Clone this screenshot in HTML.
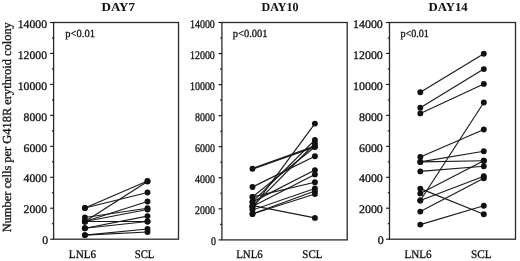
<!DOCTYPE html>
<html><head><meta charset="utf-8"><style>
html,body{margin:0;padding:0;background:#fff;}
svg{display:block;filter:grayscale(1);}
text{text-rendering:geometricPrecision;font-family:"Liberation Serif",serif;fill:#111;stroke:#111;stroke-width:0.3px;}
</style></head><body>
<svg width="520" height="261" viewBox="0 0 520 261">
<rect x="53.6" y="22.5" width="124.90" height="216.70" fill="none" stroke="#2a2a2a" stroke-width="1.3"/>
<line x1="50.20" y1="239.20" x2="53.6" y2="239.20" stroke="#111" stroke-width="1.1"/>
<line x1="51.90" y1="223.72" x2="53.6" y2="223.72" stroke="#111" stroke-width="1.1"/>
<line x1="50.20" y1="208.24" x2="53.6" y2="208.24" stroke="#111" stroke-width="1.1"/>
<line x1="51.90" y1="192.76" x2="53.6" y2="192.76" stroke="#111" stroke-width="1.1"/>
<line x1="50.20" y1="177.29" x2="53.6" y2="177.29" stroke="#111" stroke-width="1.1"/>
<line x1="51.90" y1="161.81" x2="53.6" y2="161.81" stroke="#111" stroke-width="1.1"/>
<line x1="50.20" y1="146.33" x2="53.6" y2="146.33" stroke="#111" stroke-width="1.1"/>
<line x1="51.90" y1="130.85" x2="53.6" y2="130.85" stroke="#111" stroke-width="1.1"/>
<line x1="50.20" y1="115.37" x2="53.6" y2="115.37" stroke="#111" stroke-width="1.1"/>
<line x1="51.90" y1="99.89" x2="53.6" y2="99.89" stroke="#111" stroke-width="1.1"/>
<line x1="50.20" y1="84.41" x2="53.6" y2="84.41" stroke="#111" stroke-width="1.1"/>
<line x1="51.90" y1="68.94" x2="53.6" y2="68.94" stroke="#111" stroke-width="1.1"/>
<line x1="50.20" y1="53.46" x2="53.6" y2="53.46" stroke="#111" stroke-width="1.1"/>
<line x1="51.90" y1="37.98" x2="53.6" y2="37.98" stroke="#111" stroke-width="1.1"/>
<line x1="50.20" y1="22.50" x2="53.6" y2="22.50" stroke="#111" stroke-width="1.1"/>
<text transform="translate(42.18,244.40) scale(1.010,1)" font-size="11.6" font-weight="normal">0</text>
<text transform="translate(23.61,213.44) scale(1.010,1)" font-size="11.6" font-weight="normal">2000</text>
<text transform="translate(23.61,182.49) scale(1.010,1)" font-size="11.6" font-weight="normal">4000</text>
<text transform="translate(23.61,151.53) scale(1.010,1)" font-size="11.6" font-weight="normal">6000</text>
<text transform="translate(23.61,120.57) scale(1.010,1)" font-size="11.6" font-weight="normal">8000</text>
<text transform="translate(17.75,89.61) scale(1.010,1)" font-size="11.6" font-weight="normal">10000</text>
<text transform="translate(17.75,58.66) scale(1.010,1)" font-size="11.6" font-weight="normal">12000</text>
<text transform="translate(17.75,27.70) scale(1.010,1)" font-size="11.6" font-weight="normal">14000</text>
<text style="stroke-width:0.05px" transform="translate(101.47,10.50) scale(1.071,1)" font-size="12.2" font-weight="bold">DAY7</text>
<text transform="translate(65.34,37.30) scale(0.964,1)" font-size="10.9" font-weight="normal">p<0.01</text>
<text transform="translate(68.87,257.50) scale(0.958,1)" font-size="11.6" font-weight="normal">LNL6</text>
<text transform="translate(134.67,257.50) scale(0.930,1)" font-size="11.6" font-weight="normal">SCL</text>
<line x1="84.9" y1="208" x2="147.5" y2="181" stroke="#1a1a1a" stroke-width="1.15"/>
<line x1="84.9" y1="208" x2="147.5" y2="192.5" stroke="#1a1a1a" stroke-width="1.15"/>
<line x1="84.9" y1="221.5" x2="147.5" y2="181.5" stroke="#1a1a1a" stroke-width="1.15"/>
<line x1="84.9" y1="221.5" x2="147.5" y2="201.5" stroke="#1a1a1a" stroke-width="1.15"/>
<line x1="84.9" y1="217.5" x2="147.5" y2="208.3" stroke="#1a1a1a" stroke-width="1.15"/>
<line x1="84.9" y1="221.5" x2="147.5" y2="209.5" stroke="#1a1a1a" stroke-width="1.15"/>
<line x1="84.9" y1="228.2" x2="147.5" y2="216.1" stroke="#1a1a1a" stroke-width="1.15"/>
<line x1="84.9" y1="228.2" x2="147.5" y2="221.5" stroke="#1a1a1a" stroke-width="1.15"/>
<line x1="84.9" y1="221.5" x2="147.5" y2="221.5" stroke="#1a1a1a" stroke-width="1.15"/>
<line x1="84.9" y1="235.1" x2="147.5" y2="229" stroke="#1a1a1a" stroke-width="1.15"/>
<line x1="84.9" y1="235.1" x2="147.5" y2="232" stroke="#1a1a1a" stroke-width="1.15"/>
<circle cx="84.9" cy="208" r="2.95" fill="#111"/>
<circle cx="147.5" cy="181" r="2.95" fill="#111"/>
<circle cx="84.9" cy="208" r="2.95" fill="#111"/>
<circle cx="147.5" cy="192.5" r="2.95" fill="#111"/>
<circle cx="84.9" cy="221.5" r="2.95" fill="#111"/>
<circle cx="147.5" cy="181.5" r="2.95" fill="#111"/>
<circle cx="84.9" cy="221.5" r="2.95" fill="#111"/>
<circle cx="147.5" cy="201.5" r="2.95" fill="#111"/>
<circle cx="84.9" cy="217.5" r="2.95" fill="#111"/>
<circle cx="147.5" cy="208.3" r="2.95" fill="#111"/>
<circle cx="84.9" cy="221.5" r="2.95" fill="#111"/>
<circle cx="147.5" cy="209.5" r="2.95" fill="#111"/>
<circle cx="84.9" cy="228.2" r="2.95" fill="#111"/>
<circle cx="147.5" cy="216.1" r="2.95" fill="#111"/>
<circle cx="84.9" cy="228.2" r="2.95" fill="#111"/>
<circle cx="147.5" cy="221.5" r="2.95" fill="#111"/>
<circle cx="84.9" cy="221.5" r="2.95" fill="#111"/>
<circle cx="147.5" cy="221.5" r="2.95" fill="#111"/>
<circle cx="84.9" cy="235.1" r="2.95" fill="#111"/>
<circle cx="147.5" cy="229" r="2.95" fill="#111"/>
<circle cx="84.9" cy="235.1" r="2.95" fill="#111"/>
<circle cx="147.5" cy="232" r="2.95" fill="#111"/>
<rect x="221.9" y="22.5" width="125.30" height="217.40" fill="none" stroke="#2a2a2a" stroke-width="1.3"/>
<line x1="218.50" y1="239.90" x2="221.9" y2="239.90" stroke="#111" stroke-width="1.1"/>
<line x1="220.20" y1="224.37" x2="221.9" y2="224.37" stroke="#111" stroke-width="1.1"/>
<line x1="218.50" y1="208.84" x2="221.9" y2="208.84" stroke="#111" stroke-width="1.1"/>
<line x1="220.20" y1="193.31" x2="221.9" y2="193.31" stroke="#111" stroke-width="1.1"/>
<line x1="218.50" y1="177.79" x2="221.9" y2="177.79" stroke="#111" stroke-width="1.1"/>
<line x1="220.20" y1="162.26" x2="221.9" y2="162.26" stroke="#111" stroke-width="1.1"/>
<line x1="218.50" y1="146.73" x2="221.9" y2="146.73" stroke="#111" stroke-width="1.1"/>
<line x1="220.20" y1="131.20" x2="221.9" y2="131.20" stroke="#111" stroke-width="1.1"/>
<line x1="218.50" y1="115.67" x2="221.9" y2="115.67" stroke="#111" stroke-width="1.1"/>
<line x1="220.20" y1="100.14" x2="221.9" y2="100.14" stroke="#111" stroke-width="1.1"/>
<line x1="218.50" y1="84.61" x2="221.9" y2="84.61" stroke="#111" stroke-width="1.1"/>
<line x1="220.20" y1="69.09" x2="221.9" y2="69.09" stroke="#111" stroke-width="1.1"/>
<line x1="218.50" y1="53.56" x2="221.9" y2="53.56" stroke="#111" stroke-width="1.1"/>
<line x1="220.20" y1="38.03" x2="221.9" y2="38.03" stroke="#111" stroke-width="1.1"/>
<line x1="218.50" y1="22.50" x2="221.9" y2="22.50" stroke="#111" stroke-width="1.1"/>
<text transform="translate(210.89,245.10) scale(0.860,1)" font-size="11.6" font-weight="normal">0</text>
<text transform="translate(194.92,214.04) scale(0.860,1)" font-size="11.6" font-weight="normal">2000</text>
<text transform="translate(194.92,182.99) scale(0.860,1)" font-size="11.6" font-weight="normal">4000</text>
<text transform="translate(194.92,151.93) scale(0.860,1)" font-size="11.6" font-weight="normal">6000</text>
<text transform="translate(194.92,120.87) scale(0.860,1)" font-size="11.6" font-weight="normal">8000</text>
<text transform="translate(189.93,89.81) scale(0.860,1)" font-size="11.6" font-weight="normal">10000</text>
<text transform="translate(189.93,58.76) scale(0.860,1)" font-size="11.6" font-weight="normal">12000</text>
<text transform="translate(189.93,27.70) scale(0.860,1)" font-size="11.6" font-weight="normal">14000</text>
<text style="stroke-width:0.05px" transform="translate(261.49,10.50) scale(0.991,1)" font-size="12.2" font-weight="bold">DAY10</text>
<text transform="translate(232.84,36.80) scale(0.963,1)" font-size="10.9" font-weight="normal">p<0.001</text>
<text transform="translate(236.17,258.00) scale(0.940,1)" font-size="11.6" font-weight="normal">LNL6</text>
<text transform="translate(302.36,258.00) scale(0.940,1)" font-size="11.6" font-weight="normal">SCL</text>
<line x1="252.5" y1="168.8" x2="314.9" y2="146.5" stroke="#1a1a1a" stroke-width="1.9"/>
<line x1="252.5" y1="187" x2="314.9" y2="156.3" stroke="#1a1a1a" stroke-width="1.15"/>
<line x1="252.5" y1="208" x2="314.9" y2="123.6" stroke="#1a1a1a" stroke-width="1.15"/>
<line x1="252.5" y1="197" x2="314.9" y2="147" stroke="#1a1a1a" stroke-width="1.15"/>
<line x1="252.5" y1="202" x2="314.9" y2="140" stroke="#1a1a1a" stroke-width="1.15"/>
<line x1="252.5" y1="206.5" x2="314.9" y2="143.5" stroke="#1a1a1a" stroke-width="1.15"/>
<line x1="252.5" y1="197" x2="314.9" y2="182.2" stroke="#1a1a1a" stroke-width="1.15"/>
<line x1="252.5" y1="202" x2="314.9" y2="170.1" stroke="#1a1a1a" stroke-width="1.15"/>
<line x1="252.5" y1="206.5" x2="314.9" y2="174.4" stroke="#1a1a1a" stroke-width="1.15"/>
<line x1="252.5" y1="210" x2="314.9" y2="188.5" stroke="#1a1a1a" stroke-width="1.15"/>
<line x1="252.5" y1="214" x2="314.9" y2="191" stroke="#1a1a1a" stroke-width="1.15"/>
<line x1="252.5" y1="214" x2="314.9" y2="194" stroke="#1a1a1a" stroke-width="1.15"/>
<line x1="252.5" y1="205.5" x2="314.9" y2="217.9" stroke="#1a1a1a" stroke-width="1.15"/>
<circle cx="252.5" cy="168.8" r="2.95" fill="#111"/>
<circle cx="314.9" cy="146.5" r="2.95" fill="#111"/>
<circle cx="252.5" cy="187" r="2.95" fill="#111"/>
<circle cx="314.9" cy="156.3" r="2.95" fill="#111"/>
<circle cx="252.5" cy="208" r="2.95" fill="#111"/>
<circle cx="314.9" cy="123.6" r="2.95" fill="#111"/>
<circle cx="252.5" cy="197" r="2.95" fill="#111"/>
<circle cx="314.9" cy="147" r="2.95" fill="#111"/>
<circle cx="252.5" cy="202" r="2.95" fill="#111"/>
<circle cx="314.9" cy="140" r="2.95" fill="#111"/>
<circle cx="252.5" cy="206.5" r="2.95" fill="#111"/>
<circle cx="314.9" cy="143.5" r="2.95" fill="#111"/>
<circle cx="252.5" cy="197" r="2.95" fill="#111"/>
<circle cx="314.9" cy="182.2" r="2.95" fill="#111"/>
<circle cx="252.5" cy="202" r="2.95" fill="#111"/>
<circle cx="314.9" cy="170.1" r="2.95" fill="#111"/>
<circle cx="252.5" cy="206.5" r="2.95" fill="#111"/>
<circle cx="314.9" cy="174.4" r="2.95" fill="#111"/>
<circle cx="252.5" cy="210" r="2.95" fill="#111"/>
<circle cx="314.9" cy="188.5" r="2.95" fill="#111"/>
<circle cx="252.5" cy="214" r="2.95" fill="#111"/>
<circle cx="314.9" cy="191" r="2.95" fill="#111"/>
<circle cx="252.5" cy="214" r="2.95" fill="#111"/>
<circle cx="314.9" cy="194" r="2.95" fill="#111"/>
<circle cx="252.5" cy="205.5" r="2.95" fill="#111"/>
<circle cx="314.9" cy="217.9" r="2.95" fill="#111"/>
<rect x="389.5" y="22.5" width="126.00" height="216.70" fill="none" stroke="#2a2a2a" stroke-width="1.3"/>
<line x1="386.10" y1="239.20" x2="389.5" y2="239.20" stroke="#111" stroke-width="1.1"/>
<line x1="387.80" y1="223.72" x2="389.5" y2="223.72" stroke="#111" stroke-width="1.1"/>
<line x1="386.10" y1="208.24" x2="389.5" y2="208.24" stroke="#111" stroke-width="1.1"/>
<line x1="387.80" y1="192.76" x2="389.5" y2="192.76" stroke="#111" stroke-width="1.1"/>
<line x1="386.10" y1="177.29" x2="389.5" y2="177.29" stroke="#111" stroke-width="1.1"/>
<line x1="387.80" y1="161.81" x2="389.5" y2="161.81" stroke="#111" stroke-width="1.1"/>
<line x1="386.10" y1="146.33" x2="389.5" y2="146.33" stroke="#111" stroke-width="1.1"/>
<line x1="387.80" y1="130.85" x2="389.5" y2="130.85" stroke="#111" stroke-width="1.1"/>
<line x1="386.10" y1="115.37" x2="389.5" y2="115.37" stroke="#111" stroke-width="1.1"/>
<line x1="387.80" y1="99.89" x2="389.5" y2="99.89" stroke="#111" stroke-width="1.1"/>
<line x1="386.10" y1="84.41" x2="389.5" y2="84.41" stroke="#111" stroke-width="1.1"/>
<line x1="387.80" y1="68.94" x2="389.5" y2="68.94" stroke="#111" stroke-width="1.1"/>
<line x1="386.10" y1="53.46" x2="389.5" y2="53.46" stroke="#111" stroke-width="1.1"/>
<line x1="387.80" y1="37.98" x2="389.5" y2="37.98" stroke="#111" stroke-width="1.1"/>
<line x1="386.10" y1="22.50" x2="389.5" y2="22.50" stroke="#111" stroke-width="1.1"/>
<text transform="translate(377.87,244.40) scale(1.030,1)" font-size="11.6" font-weight="normal">0</text>
<text transform="translate(358.95,213.44) scale(1.030,1)" font-size="11.6" font-weight="normal">2000</text>
<text transform="translate(358.95,182.49) scale(1.030,1)" font-size="11.6" font-weight="normal">4000</text>
<text transform="translate(358.95,151.53) scale(1.030,1)" font-size="11.6" font-weight="normal">6000</text>
<text transform="translate(358.95,120.57) scale(1.030,1)" font-size="11.6" font-weight="normal">8000</text>
<text transform="translate(352.98,89.61) scale(1.030,1)" font-size="11.6" font-weight="normal">10000</text>
<text transform="translate(352.98,58.66) scale(1.030,1)" font-size="11.6" font-weight="normal">12000</text>
<text transform="translate(352.98,27.70) scale(1.030,1)" font-size="11.6" font-weight="normal">14000</text>
<text style="stroke-width:0.05px" transform="translate(428.48,10.50) scale(1.046,1)" font-size="12.2" font-weight="bold">DAY14</text>
<text transform="translate(400.45,37.10) scale(0.927,1)" font-size="10.9" font-weight="normal">p<0.01</text>
<text transform="translate(404.47,257.50) scale(0.958,1)" font-size="11.6" font-weight="normal">LNL6</text>
<text transform="translate(470.94,257.50) scale(0.971,1)" font-size="11.6" font-weight="normal">SCL</text>
<line x1="420.3" y1="92.2" x2="483.8" y2="53.8" stroke="#1a1a1a" stroke-width="1.15"/>
<line x1="420.3" y1="107.7" x2="483.8" y2="69.1" stroke="#1a1a1a" stroke-width="1.15"/>
<line x1="420.3" y1="113.4" x2="483.8" y2="83.9" stroke="#1a1a1a" stroke-width="1.15"/>
<line x1="420.3" y1="157" x2="483.8" y2="129.5" stroke="#1a1a1a" stroke-width="1.15"/>
<line x1="420.3" y1="161.9" x2="483.8" y2="151.2" stroke="#1a1a1a" stroke-width="1.15"/>
<line x1="420.3" y1="161.9" x2="483.8" y2="160.7" stroke="#1a1a1a" stroke-width="1.15"/>
<line x1="420.3" y1="171.4" x2="483.8" y2="166.2" stroke="#1a1a1a" stroke-width="1.15"/>
<line x1="420.3" y1="193.4" x2="483.8" y2="160.7" stroke="#1a1a1a" stroke-width="1.15"/>
<line x1="420.3" y1="200.5" x2="483.8" y2="102.5" stroke="#1a1a1a" stroke-width="1.15"/>
<line x1="420.3" y1="200.5" x2="483.8" y2="176.3" stroke="#1a1a1a" stroke-width="1.15"/>
<line x1="420.3" y1="211.6" x2="483.8" y2="178.2" stroke="#1a1a1a" stroke-width="1.15"/>
<line x1="420.3" y1="224.6" x2="483.8" y2="205.8" stroke="#1a1a1a" stroke-width="1.15"/>
<line x1="420.3" y1="188.6" x2="483.8" y2="214.3" stroke="#1a1a1a" stroke-width="1.15"/>
<circle cx="420.3" cy="92.2" r="2.95" fill="#111"/>
<circle cx="483.8" cy="53.8" r="2.95" fill="#111"/>
<circle cx="420.3" cy="107.7" r="2.95" fill="#111"/>
<circle cx="483.8" cy="69.1" r="2.95" fill="#111"/>
<circle cx="420.3" cy="113.4" r="2.95" fill="#111"/>
<circle cx="483.8" cy="83.9" r="2.95" fill="#111"/>
<circle cx="420.3" cy="157" r="2.95" fill="#111"/>
<circle cx="483.8" cy="129.5" r="2.95" fill="#111"/>
<circle cx="420.3" cy="161.9" r="2.95" fill="#111"/>
<circle cx="483.8" cy="151.2" r="2.95" fill="#111"/>
<circle cx="420.3" cy="161.9" r="2.95" fill="#111"/>
<circle cx="483.8" cy="160.7" r="2.95" fill="#111"/>
<circle cx="420.3" cy="171.4" r="2.95" fill="#111"/>
<circle cx="483.8" cy="166.2" r="2.95" fill="#111"/>
<circle cx="420.3" cy="193.4" r="2.95" fill="#111"/>
<circle cx="483.8" cy="160.7" r="2.95" fill="#111"/>
<circle cx="420.3" cy="200.5" r="2.95" fill="#111"/>
<circle cx="483.8" cy="102.5" r="2.95" fill="#111"/>
<circle cx="420.3" cy="200.5" r="2.95" fill="#111"/>
<circle cx="483.8" cy="176.3" r="2.95" fill="#111"/>
<circle cx="420.3" cy="211.6" r="2.95" fill="#111"/>
<circle cx="483.8" cy="178.2" r="2.95" fill="#111"/>
<circle cx="420.3" cy="224.6" r="2.95" fill="#111"/>
<circle cx="483.8" cy="205.8" r="2.95" fill="#111"/>
<circle cx="420.3" cy="188.6" r="2.95" fill="#111"/>
<circle cx="483.8" cy="214.3" r="2.95" fill="#111"/>
<text transform="translate(11.0,232.37) rotate(-90) scale(1.003,1)" font-size="12.4">Number cells per G418R erythroid colony</text>
</svg>
</body></html>
